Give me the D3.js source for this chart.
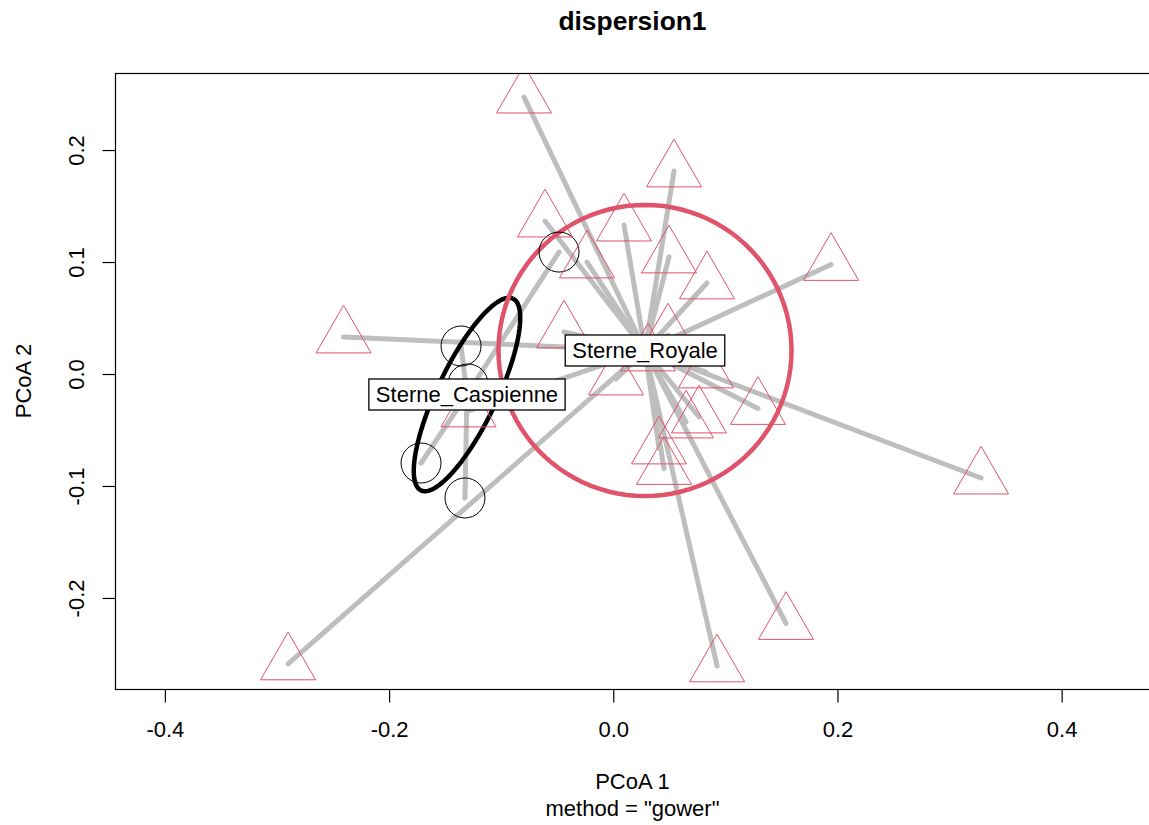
<!DOCTYPE html>
<html>
<head>
<meta charset="utf-8">
<script src="https://cdn.jsdelivr.net/npm/d3@7"></script>
<style>
  body { margin: 0; background: #fff; }
  svg text { font-family: "Liberation Sans", Arial, sans-serif; fill: #000; }
</style>
</head>
<body>
<svg id="chart" width="1149" height="825"></svg>
<script>
// ── data (PCoA scores) ──
const groups = ["Sterne_Caspienne", "Sterne_Royale"];
const groupColor = ["#000000", "#DF536B"];
const groupShape = ["circle", "triangle"];

// spatial-median centroids
const centroidX = [-0.1305, 0.0283];
const centroidY = [-0.0183, 0.0210];

// Sterne_Caspienne sites
const caspX = [-0.0484, -0.1358, -0.1296, -0.1715, -0.1323];
const caspY = [ 0.1089,  0.0250, -0.0089, -0.0795, -0.1107];

// Sterne_Royale sites
const royX = [-0.0796, 0.0542, -0.0609, 0.0096, -0.0234, 0.0497, 0.0836, 0.1943,
              -0.2406, -0.0439, 0.0488, 0.0310, 0.0025, 0.0827, 0.1291, 0.0765,
               0.0649, 0.0408, 0.0453, 0.1541, 0.0926, -0.2901, -0.1291, 0.3281];
const royY = [ 0.2473, 0.1813, 0.1366, 0.1330, 0.1000, 0.1045, 0.0813, 0.0978,
               0.0330, 0.0375, 0.0348, 0.0170, -0.0045, 0.0018, -0.0308, -0.0384,
              -0.0429, -0.0661, -0.0844, -0.2228, -0.2607, -0.2589, -0.0330, -0.0929];

// sd ellipses: semi-axes and rotation (degrees)
const ellipseA = [0.0950, 0.1307];
const ellipseB = [0.0265, 0.1300];
const ellipseAngle = [64.4, 0];

const xTicks = [-0.4, -0.2, 0.0, 0.2, 0.4];
const yTicks = [-0.2, -0.1, 0.0, 0.1, 0.2];

const siteX = [caspX, royX];
const siteY = [caspY, royY];

// ── layout ──
const FS = 22, LH = FS * 1.2;
const P = { l: 115, t: 73, r: 1150, b: 689 };
const svg = d3.select("#chart");

const x = d3.scaleLinear().domain([-0.4445, 0.4788]).range([P.l, P.r]);
const y = d3.scaleLinear().domain([-0.2813, 0.2688]).range([P.b, P.t]);

svg.append("clipPath").attr("id", "plotclip")
  .append("rect").attr("x", P.l).attr("y", P.t)
  .attr("width", P.r - P.l).attr("height", P.b - P.t);

const g = svg.append("g").attr("clip-path", "url(#plotclip)");

// segments site -> centroid
groups.forEach((grp, i) => {
  g.append("g").selectAll("line")
    .data(siteX[i].map((v, k) => [v, siteY[i][k]]))
    .join("line")
    .attr("x1", x(centroidX[i])).attr("y1", y(centroidY[i]))
    .attr("x2", d => x(d[0])).attr("y2", d => y(d[1]))
    .attr("stroke", "#BEBEBE").attr("stroke-width", 5)
    .attr("stroke-linecap", "round");
});

// ellipses
function ellipsePts(i) {
  const th = ellipseAngle[i] * Math.PI / 180;
  return d3.range(0, 101).map(k => {
    const t = k / 100 * 2 * Math.PI;
    const ex = ellipseA[i] * Math.cos(t), ey = ellipseB[i] * Math.sin(t);
    return [centroidX[i] + ex * Math.cos(th) - ey * Math.sin(th),
            centroidY[i] + ex * Math.sin(th) + ey * Math.cos(th)];
  });
}
const line = d3.line().x(d => x(d[0])).y(d => y(d[1]));
groups.forEach((grp, i) => {
  g.append("path").attr("d", line(ellipsePts(i)))
    .attr("fill", "none").attr("stroke", groupColor[i]).attr("stroke-width", 4.5)
    .attr("stroke-linejoin", "round");
});

// centroid dots (hidden under labels like in R)
g.selectAll(".cen").data(groups).join("circle").attr("class", "cen")
  .attr("cx", (d, i) => x(centroidX[i])).attr("cy", (d, i) => y(centroidY[i]))
  .attr("r", 7).attr("fill", "red");

// site symbols
const symGen = {
  circle: d3.symbol(d3.symbolCircle, Math.PI * 20 * 20),
  triangle: d3.symbol(d3.symbolTriangle, 1310)
};
groups.forEach((grp, i) => {
  g.append("g").selectAll("path")
    .data(siteX[i].map((v, k) => [v, siteY[i][k]]))
    .join("path")
    .attr("transform", d => `translate(${x(d[0])},${y(d[1])})`)
    .attr("d", symGen[groupShape[i]]())
    .attr("fill", "none").attr("stroke", groupColor[i]).attr("stroke-width", 1);
});

// ordilabel boxes
groups.forEach((grp, i) => {
  const cx = x(centroidX[i]), cy = y(centroidY[i]);
  const lg = svg.append("g");
  const r = lg.append("rect");
  const t = lg.append("text").attr("x", cx).attr("y", cy + 7.5)
    .attr("text-anchor", "middle").style("font-size", FS + "px").text(grp);
  const w = t.node().getComputedTextLength() + 14;
  r.attr("x", cx - w / 2).attr("y", cy - 15.5).attr("width", w).attr("height", 31)
    .attr("fill", "#fff").attr("stroke", "#000").attr("stroke-width", 1.3);
});

// box
svg.append("rect").attr("x", P.l + 0.5).attr("y", P.t + 0.5)
  .attr("width", P.r - P.l).attr("height", P.b - P.t)
  .attr("fill", "none").attr("stroke", "#000").attr("stroke-width", 1.2);

// axes
const fmt = d => d.toFixed(1);
const xAx = svg.append("g").attr("transform", `translate(0,${P.b + 0.5})`)
  .call(d3.axisBottom(x).tickValues(xTicks).tickSize(13).tickSizeOuter(0).tickFormat(fmt));
xAx.select(".domain").remove();
xAx.selectAll("line").attr("stroke", "#000").attr("stroke-width", 1.2);
xAx.selectAll("text").attr("y", 0.8 * LH + LH).attr("dy", 0)
  .style("font-size", FS + "px").attr("fill", "#000").attr("font-family", null);

const yAx = svg.append("g").attr("transform", `translate(${P.l + 0.5},0)`)
  .call(d3.axisLeft(y).tickValues(yTicks).tickSize(13).tickSizeOuter(0).tickFormat(fmt));
yAx.select(".domain").remove();
yAx.selectAll("line").attr("stroke", "#000").attr("stroke-width", 1.2);
yAx.selectAll("text").attr("x", 0).attr("dy", 0).attr("text-anchor", "middle")
  .attr("transform", `translate(${-1.2 * LH},0) rotate(-90)`)
  .style("font-size", FS + "px").attr("fill", "#000").attr("font-family", null);

// titles
const midX = (P.l + P.r) / 2;
svg.append("text").attr("x", midX).attr("y", 30).attr("text-anchor", "middle")
  .style("font-size", (FS * 1.2) + "px").style("font-weight", "bold").text("dispersion1");
svg.append("text").attr("x", midX).attr("y", P.b + 3.8 * LH).attr("text-anchor", "middle")
  .style("font-size", FS + "px").text("PCoA 1");
svg.append("text").attr("x", midX).attr("y", P.b + 4.8 * LH).attr("text-anchor", "middle")
  .style("font-size", FS + "px").text('method = "gower"');
svg.append("text")
  .attr("transform", `translate(${P.l - 3.2 * LH},${(P.t + P.b) / 2}) rotate(-90)`)
  .attr("text-anchor", "middle").style("font-size", FS + "px").text("PCoA 2");
</script>
</body>
</html>
